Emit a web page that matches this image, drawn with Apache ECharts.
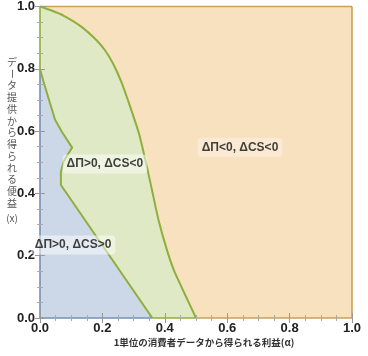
<!DOCTYPE html>
<html><head><meta charset="utf-8">
<script src="https://cdn.jsdelivr.net/npm/echarts@6/dist/echarts.min.js"></script>
<style>html,body{margin:0;padding:0;background:#fff}#c{width:368px;height:356px}</style>
</head><body><div id="c"></div>
<script>
// ---- data ----
const orangeBoundaryX = [0, 0.035, 0.075, 0.13, 0.182, 0.21, 0.234, 0.26, 0.282, 0.317, 0.343, 0.361, 0.380, 0.407, 0.429, 0.458, 0.5];
const orangeBoundaryY = [1, 0.988, 0.971, 0.937, 0.891, 0.857, 0.817, 0.76, 0.699, 0.593, 0.484, 0.401, 0.314, 0.218, 0.154, 0.090, 0];
const blueBoundaryX = [0, 0.01, 0.029, 0.048, 0.07, 0.103, 0.091, 0.075, 0.067, 0.067, 0.36];
const blueBoundaryY = [0.8, 0.763, 0.70, 0.637, 0.598, 0.547, 0.528, 0.501, 0.469, 0.427, 0];
const regionLabels = ['ΔΠ>0, ΔCS<0', 'ΔΠ<0, ΔCS<0', 'ΔΠ>0, ΔCS>0'];
const labelX = [0.208, 0.641, 0.106];
const labelY = [0.494, 0.548, 0.234];
const tickValues = [0, 0.2, 0.4, 0.6, 0.8, 1.0];
const xTitle = '1単位の消費者データから得られる利益(α)';
const yTitle = 'データ提供から得られる便益(x)';

// ---- styles ----
const C_BLUE = '#ccd8e8', C_GREEN = '#e0e9c6', C_ORANGE = '#f8e1bf';
const L_GREEN = '#8fae3c', L_BLUE = '#7690b4', L_ORANGE = '#c9a15a';

const zip = (xs, ys) => xs.map((x, i) => [x, ys[i]]);
const orangePts = zip(orangeBoundaryX, orangeBoundaryY);
const bluePts = zip(blueBoundaryX, blueBoundaryY);
const blueTop = blueBoundaryY[0];
const blueEnd = blueBoundaryX[blueBoundaryX.length - 1];
const orangeEnd = orangeBoundaryX[orangeBoundaryX.length - 1];

function seg(data, color, z) {
  return {type: 'line', data, showSymbol: false, symbol: 'none', clip: false, silent: true, z,
    lineStyle: {color, width: 1.6}};
}

const tickFmt = v => {
  const hit = tickValues.find(t => Math.abs(t - v) < 1e-9);
  return hit === undefined ? '' : hit.toFixed(1);
};
const labelFont = {fontFamily: 'Liberation Sans, Arial, sans-serif', fontWeight: 'bold', fontSize: 13, color: '#222'};
function axisCommon(extra) {
  return Object.assign({
    type: 'value', min: 0, max: 1, interval: 0.2, z: 10,
    axisLine: {show: false}, splitLine: {show: false},
    axisTick: {show: true, inside: true, length: 5, lineStyle: {color: '#999', width: 1}},
    minorTick: {show: true, splitNumber: 4, length: 3, lineStyle: {color: '#aaa', width: 1}},
  }, extra);
}

const yChars = yTitle.replace('(x)', '').split('');
yChars.push('(x)');
const yTitleEls = yChars.map((ch, i) => ({
  type: 'text', x: 12, y: ch === '(x)' ? 218 : 62 + i * 11.75,
  rotation: ch === 'ー' ? -Math.PI / 2 : 0,
  style: {text: ch, fontSize: 10, fontFamily: 'Noto Sans CJK JP', fill: '#555',
    align: 'center', verticalAlign: 'middle', textAlign: 'center', textVerticalAlign: 'middle'}
}));

const chart = echarts.init(document.getElementById('c'), null, {renderer: 'canvas'});
chart.setOption({
  animation: false,
  grid: {left: 40, right: 16, top: 6, bottom: 38, show: true, backgroundColor: C_ORANGE, borderWidth: 0},
  xAxis: [
    axisCommon({position: 'bottom', axisLabel: Object.assign({margin: 4, formatter: tickFmt}, labelFont)}),
    axisCommon({position: 'top', axisLabel: {show: false}})
  ],
  yAxis: [
    axisCommon({position: 'left', axisLabel: Object.assign({margin: 5, formatter: tickFmt}, labelFont)}),
    axisCommon({position: 'right', axisLabel: {show: false}})
  ],
  graphic: yTitleEls.concat([{
    type: 'text', x: 204, y: 342,
    style: {text: xTitle, fontSize: 9.5, fontWeight: 'bold', fontFamily: 'Noto Sans CJK JP', fill: '#333',
      align: 'center', verticalAlign: 'middle', textAlign: 'center', textVerticalAlign: 'middle'}
  }]),
  series: [
    {type: 'line', data: orangePts, smooth: 0.2, showSymbol: false, symbol: 'none', silent: true, z: 2,
      lineStyle: {width: 0}, areaStyle: {color: C_GREEN, opacity: 1, origin: 'start'}},
    {type: 'line', data: bluePts, smooth: false, showSymbol: false, symbol: 'none', silent: true, z: 3,
      lineStyle: {width: 0}, areaStyle: {color: C_BLUE, opacity: 1, origin: 'start'}},
    seg([[0, 0], [0, blueTop]], L_BLUE, 5),
    seg([[0, blueTop], [0, 1]], L_GREEN, 5),
    seg([[0, 0], [blueEnd, 0]], L_BLUE, 5),
    seg([[blueEnd, 0], [orangeEnd, 0]], L_GREEN, 5),
    seg([[orangeEnd, 0], [1, 0]], L_ORANGE, 5),
    seg([[0, 1], [1, 1]], L_ORANGE, 5),
    seg([[1, 0], [1, 1]], L_ORANGE, 5),
    Object.assign(seg(orangePts, L_GREEN, 6), {smooth: 0.2, lineStyle: {color: L_GREEN, width: 2}}),
    Object.assign(seg(bluePts, L_GREEN, 6), {lineStyle: {color: L_GREEN, width: 2}}),
    {type: 'scatter', symbolSize: 0, silent: true, z: 20,
      data: regionLabels.map((t, i) => ({name: t, value: [labelX[i], labelY[i]],
        label: {backgroundColor: i === 1 ? 'rgba(255,255,255,0.4)' : 'rgba(255,255,255,0.62)'}})),
      label: {show: true, position: 'inside', formatter: p => p.name, color: '#111',
        fontFamily: 'Liberation Sans, Arial, sans-serif', fontWeight: 'bold', fontSize: 12,
        padding: [4, 4, 3, 4], borderRadius: 4}}
  ]
});
</script></body></html>
